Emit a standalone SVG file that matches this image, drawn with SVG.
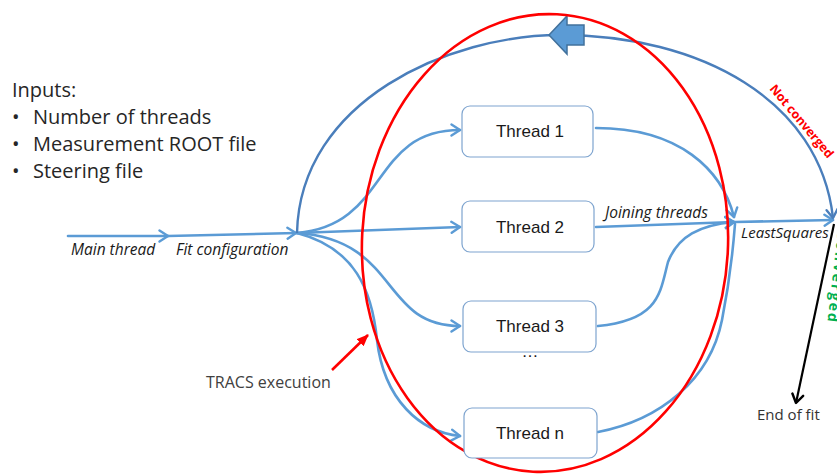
<svg xmlns="http://www.w3.org/2000/svg" width="837" height="475" viewBox="0 0 837 475">
  <style>
    .box { fill: #ffffff; stroke: #7EA4CF; stroke-width: 1.2; }
    .tlabel { font-family: "Liberation Sans", Arial, sans-serif; font-size: 17px; fill: #1a1a1a; text-anchor: middle; }
    .flow { fill: none; stroke: #5B9BD5; stroke-width: 2.6; stroke-linecap: round; }
    .loop { fill: none; stroke: #4A7EBB; stroke-width: 2.4; }
    .lbl { font-family: "Open Sans", "Liberation Sans", sans-serif; font-size: 15.5px; font-style: italic; fill: #1a1a1a; }
    .txt { font-family: "Open Sans", "Liberation Sans", sans-serif; }
  </style>
  <defs>
    <marker id="chev" viewBox="0 0 12 14" refX="10" refY="7" markerWidth="12" markerHeight="14" markerUnits="userSpaceOnUse" orient="auto">
      <path d="M1.5,1.5 L10,7 L1.5,12.5" fill="none" stroke="#5B9BD5" stroke-width="2.4" stroke-linecap="round" stroke-linejoin="round"/>
    </marker>
    <marker id="chevDark" viewBox="0 0 12 14" refX="10" refY="7" markerWidth="12" markerHeight="14" markerUnits="userSpaceOnUse" orient="auto">
      <path d="M1.5,1.5 L10,7 L1.5,12.5" fill="none" stroke="#4A7EBB" stroke-width="2.4" stroke-linecap="round" stroke-linejoin="round"/>
    </marker>
    <marker id="chevBlack" viewBox="0 0 12 14" refX="10" refY="7" markerWidth="12" markerHeight="14" markerUnits="userSpaceOnUse" orient="auto">
      <path d="M1.5,1.5 L10,7 L1.5,12.5" fill="none" stroke="#000000" stroke-width="2.4" stroke-linecap="round" stroke-linejoin="round"/>
    </marker>
    <marker id="redHead" viewBox="0 0 12 10" refX="11" refY="5" markerWidth="12" markerHeight="10" markerUnits="userSpaceOnUse" orient="auto">
      <path d="M0,0 L12,5 L0,10 Z" fill="#FF0000"/>
    </marker>
  </defs>

  <!-- inputs list -->
  <g id="inputs" class="txt" font-size="20" style="fill:#262626">
    <text x="12" y="97">Inputs:</text>
    <text x="12" y="124">•</text>
    <text x="33" y="124">Number of threads</text>
    <text x="12" y="151">•</text>
    <text x="33" y="151">Measurement ROOT file</text>
    <text x="12" y="178">•</text>
    <text x="33" y="178">Steering file</text>
  </g>

  <!-- connectors -->
  <g id="connectors">
    <!-- main thread -->
    <path class="flow" d="M68,236 L168,236" marker-end="url(#chev)"/>
    <path class="flow" d="M168,236 L296,233" marker-end="url(#chev)"/>
    <!-- fork to threads -->
    <path class="flow" d="M297,233 C390,225 370,130 460,130" marker-end="url(#chev)"/>
    <path class="flow" d="M297,233 L460,227" marker-end="url(#chev)"/>
    <path class="flow" d="M297,233 C400,240 380,326 460,326" marker-end="url(#chev)"/>
    <path class="flow" d="M297,233 C355,248 372,290 377,340 C384,400 420,432 460,436" marker-end="url(#chev)"/>
    <!-- threads joining -->
    <path class="flow" d="M596,128 C680,128 722,170 734,217" marker-end="url(#chev)"/>
    <path class="flow" d="M596,227 L734,222" marker-end="url(#chev)"/>
    <path class="flow" d="M598,326 C660,320 660,292 668,262 C678,236 700,225 734,222" marker-end="url(#chev)"/>
    <path class="flow" d="M598,432 C660,420 710,380 722,320 C730,280 733,250 735,224"/>
    <!-- least squares out -->
    <path class="flow" d="M735,222 L833,220" marker-end="url(#chev)"/>
    <!-- iteration loop -->
    <path class="loop" d="M297,233 C300,100 450,35 560,35 C700,35 820,100 833,218" marker-end="url(#chevDark)"/>
    <polygon points="549,35 567,16 567,25 584,25 584,45 567,45 567,54" fill="#5B9BD5" stroke="#41719C" stroke-width="1.5" stroke-linejoin="miter"/>
    <!-- exit -->
    <path d="M834,224 L796,403" fill="none" stroke="#000000" stroke-width="2.2" marker-end="url(#chevBlack)"/>
    <!-- annotation pointer -->
    <path d="M332,370 L368,335" fill="none" stroke="#FF0000" stroke-width="2.6" marker-end="url(#redHead)"/>
  </g>

  <!-- execution boundary -->
  <ellipse id="tracs-boundary" cx="545" cy="243" rx="183" ry="229" fill="none" stroke="#FF0000" stroke-width="2.6" transform="rotate(3 545 243)"/>

  <g id="thread1">
    <rect class="box" x="462" y="106" width="131" height="51" rx="8"/>
    <text class="tlabel" x="530" y="137">Thread 1</text>
  </g>
  <g id="thread2">
    <rect class="box" x="462" y="201" width="132" height="51" rx="8"/>
    <text class="tlabel" x="530" y="233">Thread 2</text>
  </g>
  <g id="thread3">
    <rect class="box" x="463" y="301" width="133" height="51" rx="8"/>
    <text class="tlabel" x="530" y="332">Thread 3</text>
  </g>
  <g id="threadn">
    <rect class="box" x="464" y="408" width="133" height="50" rx="8"/>
    <text class="tlabel" x="530" y="439">Thread n</text>
  </g>
  <text class="tlabel" x="530" y="357" font-size="18">…</text>

  <!-- labels -->
  <g id="labels">
    <text class="lbl" x="71" y="255">Main thread</text>
    <text class="lbl" x="176" y="255">Fit configuration</text>
    <text class="lbl" x="605" y="218">Joining threads</text>
    <text class="lbl" x="741" y="238" style="font-size:15px">LeastSquares</text>
    <text class="txt" x="206" y="388" style="font-size:16px;fill:#404040">TRACS execution</text>
    <text class="txt" x="757" y="420" style="font-size:15px;fill:#333333">End of fit</text>
    <text class="txt" style="font-size:12.5px;font-weight:bold;fill:#FF0000" transform="translate(769,89) rotate(50)">Not converged</text>
    <text class="txt" style="font-size:14px;font-weight:bold;fill:#00B050;letter-spacing:2.2px" transform="translate(838,230) rotate(96.6)">Converged</text>
  </g>
</svg>
